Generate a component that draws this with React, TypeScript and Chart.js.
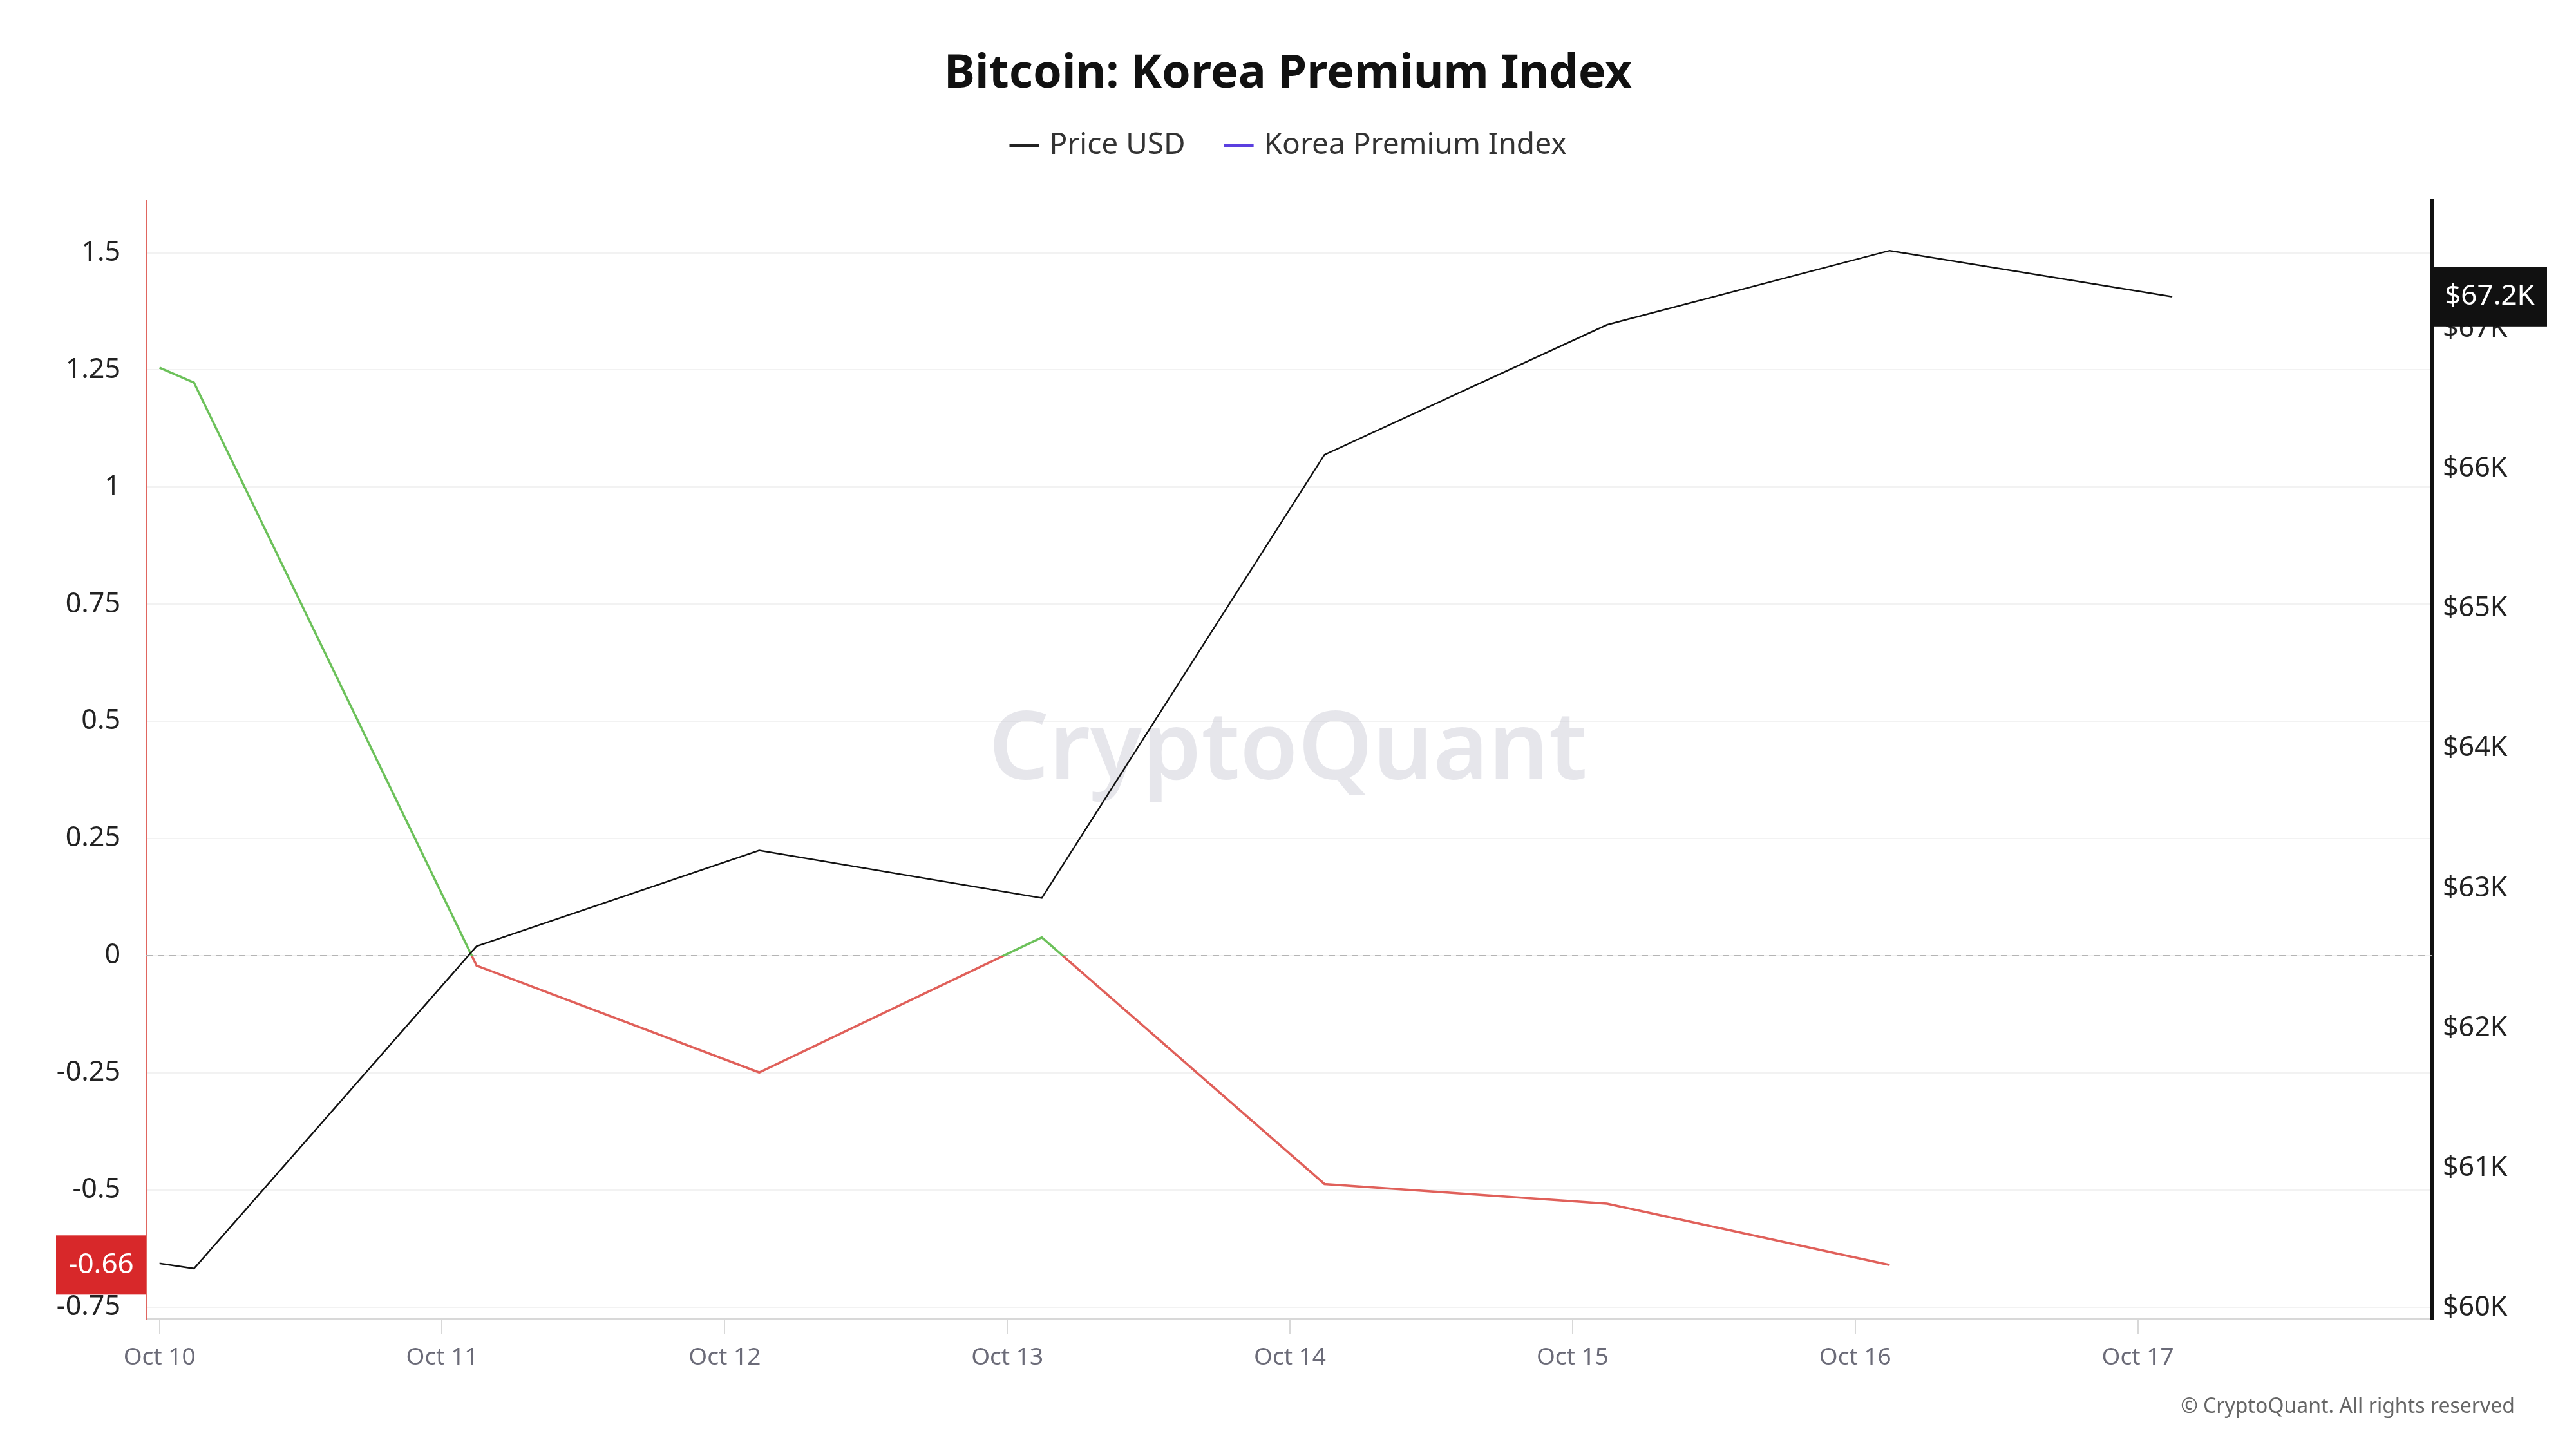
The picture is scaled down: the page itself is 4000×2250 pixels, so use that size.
import React, { useEffect, useRef } from "react";
import { Chart, registerables } from "chart.js";
Chart.register(...registerables);

const dayLabels = ["Oct 10", "Oct 11", "Oct 12", "Oct 13", "Oct 14", "Oct 15", "Oct 16", "Oct 17"];
const premiumX = [0, 0.122, 1.122, 2.122, 3.122, 4.122, 5.122, 6.122];
const premiumValues = [1.255, 1.223, -0.021, -0.249, 0.039, -0.487, -0.529, -0.66];
const priceX = [0, 0.122, 1.122, 2.122, 3.122, 4.122, 5.122, 6.122, 7.122];
const priceValues = [60317, 60280, 62585, 63270, 62930, 66100, 67030, 67560, 67230];
const leftTicks = [-0.75, -0.5, -0.25, 0, 0.25, 0.5, 0.75, 1, 1.25, 1.5];
const rightTicks = [60000, 61000, 62000, 63000, 64000, 65000, 66000, 67000];

const FONT = "'Noto Sans', 'Open Sans', sans-serif";
const GREEN = "#6cc15a";
const RED = "#e0605a";

const overlay = {
  id: "overlay",
  beforeDatasetsDraw(chart: any) {
    const { ctx, chartArea, scales } = chart;
    const y0 = scales.y.getPixelForValue(0);
    ctx.save();
    ctx.strokeStyle = "#b5b5b5";
    ctx.lineWidth = 2;
    ctx.setLineDash([10, 8]);
    ctx.beginPath();
    ctx.moveTo(chartArea.left, y0);
    ctx.lineTo(chartArea.right, y0);
    ctx.stroke();
    ctx.restore();
    ctx.save();
    ctx.font = `600 147px ${FONT}`;
    ctx.fillStyle = "rgba(200,200,210,0.45)";
    ctx.textAlign = "center";
    ctx.textBaseline = "middle";
    ctx.fillText("CryptoQuant", 2000, 1168);
    ctx.restore();
  },
  afterDraw(chart: any) {
    const { ctx, scales } = chart;
    ctx.save();
    ctx.fillStyle = "#111";
    ctx.font = `bold 72px ${FONT}`;
    ctx.textAlign = "center";
    ctx.textBaseline = "middle";
    ctx.fillText("Bitcoin: Korea Premium Index", 2000, 115);
    ctx.font = `46px ${FONT}`;
    ctx.textAlign = "left";
    const items = [
      { t: "Price USD", c: "#222" },
      { t: "Korea Premium Index", c: "#5b3fe0" },
    ];
    const lineW = 46, gap = 16, itemGap = 60;
    let total = 0;
    items.forEach((it, i) => { total += lineW + gap + ctx.measureText(it.t).width + (i ? itemGap : 0); });
    let x = 2000 - total / 2;
    items.forEach((it, i) => {
      if (i) x += itemGap;
      ctx.strokeStyle = it.c;
      ctx.lineWidth = 4;
      ctx.beginPath();
      ctx.moveTo(x, 226);
      ctx.lineTo(x + lineW, 226);
      ctx.stroke();
      x += lineW + gap;
      ctx.fillStyle = "#333";
      ctx.fillText(it.t, x, 226);
      x += ctx.measureText(it.t).width;
    });
    const last = premiumValues[premiumValues.length - 1];
    const ly = scales.y.getPixelForValue(last);
    ctx.fillStyle = "#d8282a";
    ctx.fillRect(87, ly - 46, 140, 92);
    ctx.fillStyle = "#fff";
    ctx.font = `44px ${FONT}`;
    ctx.textAlign = "center";
    ctx.fillText(last.toFixed(2), 157, ly);
    const lp = priceValues[priceValues.length - 1];
    const ry = scales.y1.getPixelForValue(lp);
    ctx.fillStyle = "#111";
    ctx.fillRect(3778, ry - 46, 177, 92);
    ctx.fillStyle = "#fff";
    ctx.fillText("$" + (lp / 1000).toFixed(1) + "K", 3866, ry);
    ctx.fillStyle = "#666";
    ctx.font = `32px ${FONT}`;
    ctx.textAlign = "right";
    ctx.fillText("© CryptoQuant. All rights reserved", 3905, 2185);
    ctx.restore();
  },
};

function splitColor(c: any) {
  const chart = c.chart;
  const area = chart.chartArea;
  if (!area) return GREEN;
  const y0 = chart.scales.y.getPixelForValue(0);
  const t = Math.min(1, Math.max(0, (y0 - area.top) / (area.bottom - area.top)));
  const g = chart.ctx.createLinearGradient(0, area.top, 0, area.bottom);
  g.addColorStop(0, GREEN);
  g.addColorStop(t, GREEN);
  g.addColorStop(t, RED);
  g.addColorStop(1, RED);
  return g;
}

export default function App() {
  const ref = useRef<HTMLCanvasElement>(null);
  useEffect(() => {
    const chart = new Chart(ref.current!, {
      type: "line",
      data: {
        datasets: [
          {
            label: "Price USD",
            data: priceX.map((x, i) => ({ x, y: priceValues[i] })),
            borderColor: "#111",
            borderWidth: 2.5,
            pointRadius: 0,
            yAxisID: "y1",
            tension: 0,
          },
          {
            label: "Korea Premium Index",
            data: premiumX.map((x, i) => ({ x, y: premiumValues[i] })),
            borderColor: splitColor,
            borderWidth: 3.5,
            pointRadius: 0,
            yAxisID: "y",
            tension: 0,
          },
        ],
      },
      options: {
        animation: false,
        responsive: false,
        devicePixelRatio: 1,
        layout: { padding: { top: 311, left: 0, right: 0, bottom: 0 } },
        plugins: { legend: { display: false }, title: { display: false }, tooltip: { enabled: false } },
        scales: {
          x: {
            type: "linear",
            min: -0.047,
            max: 8.04,
            afterBuildTicks: (s: any) => { s.ticks = dayLabels.map((_, i) => ({ value: i })); },
            ticks: {
              callback: (v: any) => dayLabels[v] ?? "",
              color: "#6b6b78",
              font: { family: FONT, size: 37 },
              padding: 14,
              maxRotation: 0,
            },
            grid: { drawOnChartArea: false, color: "#d8d8d8", tickLength: 24, lineWidth: 2 },
            border: { color: "#d8d8d8", width: 3 },
            afterFit: (s: any) => { s.height = 202; },
          },
          y: {
            position: "left",
            min: -0.775,
            max: 1.612,
            afterBuildTicks: (s: any) => { s.ticks = leftTicks.map((v) => ({ value: v })); },
            ticks: {
              callback: (v: any) => String(v),
              color: "#222",
              font: { family: FONT, size: 43 },
              padding: 40,
            },
            grid: { color: "#f2f2f2", lineWidth: 2, drawTicks: false },
            border: { color: "#e06660", width: 3 },
            afterFit: (s: any) => { s.width = 227; },
          },
          y1: {
            position: "right",
            min: 59920,
            max: 67920,
            afterBuildTicks: (s: any) => { s.ticks = rightTicks.map((v) => ({ value: v })); },
            ticks: {
              callback: (v: any) => "$" + Math.round(v / 1000) + "K",
              color: "#222",
              font: { family: FONT, size: 43 },
              padding: 17,
            },
            grid: { drawOnChartArea: false, drawTicks: false },
            border: { color: "#111", width: 5 },
            afterFit: (s: any) => { s.width = 224; },
          },
        },
      },
      plugins: [overlay],
    } as any);
    return () => chart.destroy();
  }, []);
  return (
    <div style={{ position: "fixed", left: 0, top: 0, width: 4000, height: 2250, background: "#fff" }}>
      <canvas ref={ref} width={4000} height={2250} />
    </div>
  );
}
